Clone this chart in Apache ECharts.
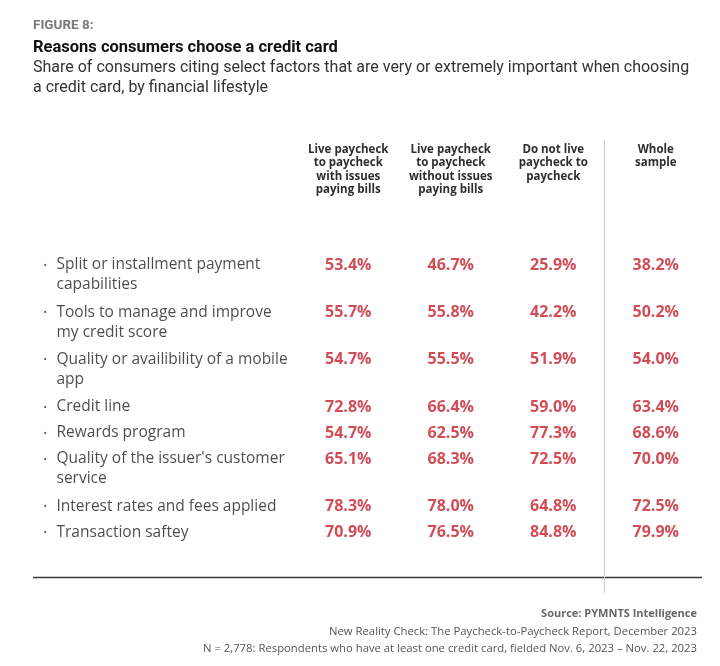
<!DOCTYPE html>
<html><head><meta charset="utf-8">
<script src="https://cdn.jsdelivr.net/npm/echarts@6/dist/echarts.min.js"></script>
<style>html,body{margin:0;padding:0;background:#fff}#c{width:720px;height:666px}</style>
</head><body><div id="c"></div>
<script>
const figureLabel = 'FIGURE 8:';
const titleText = 'Reasons consumers choose a credit card';
const subtitleText = 'Share of consumers citing select factors that are very or extremely important when choosing\na credit card, by financial lifestyle';
const columns = [
  'Live paycheck\nto paycheck\nwith issues\npaying bills',
  'Live paycheck\nto paycheck\nwithout issues\npaying bills',
  'Do not live\npaycheck to\npaycheck',
  'Whole\nsample'
];
const factors = [
  'Split or installment payment\ncapabilities',
  'Tools to manage and improve\nmy credit score',
  'Quality or availibility of a mobile\napp',
  'Credit line',
  'Rewards program',
  "Quality of the issuer's customer\nservice",
  'Interest rates and fees applied',
  'Transaction saftey'
];
const liveWithIssues    = [53.4, 55.7, 54.7, 72.8, 54.7, 65.1, 78.3, 70.9];
const liveWithoutIssues = [46.7, 55.8, 55.5, 66.4, 62.5, 68.3, 78.0, 76.5];
const notLive           = [25.9, 42.2, 51.9, 59.0, 77.3, 72.5, 64.8, 84.8];
const wholeSample       = [38.2, 50.2, 54.0, 63.4, 68.6, 70.0, 72.5, 79.9];
const sourceTitle = 'Source: PYMNTS Intelligence';
const sourceNotes = [
  'New Reality Check: The Paycheck-to-Paycheck Report, December 2023',
  'N = 2,778: Respondents who have at least one credit card, fielded Nov. 6, 2023 \u2013 Nov. 22, 2023'
];

const seriesValues = [liveWithIssues, liveWithoutIssues, notLive, wholeSample];

// row positions derived from the number of lines in each factor label
const EXTRA_LINE = 0.82;
const rowPos = [];
let acc = 0;
factors.forEach(f => { rowPos.push(acc); acc += 1 + EXTRA_LINE * (f.split('\n').length - 1); });
const ruleY = acc + 0.72;
const PX = 26, TOP = 140, H = 453, FIRST = 265;
const yMin = -(FIRST - TOP) / PX, yMax = yMin + H / PX;

const red = '#c61f2d';
const chart = echarts.init(document.getElementById('c'), null, {renderer: 'canvas'});

const yCommon = {type: 'value', inverse: true, min: yMin, max: yMax, show: false};

const footStyle = {fontFamily: 'Open Sans', fontWeight: 'normal', fontSize: 11.3, color: '#555', lineHeight: 14};

const option = {
  animation: false,
  backgroundColor: '#fff',
  title: [
    {text: figureLabel, left: 33, top: 18, padding: 0,
     textStyle: {fontFamily: 'Roboto', fontWeight: 'bold', fontSize: 13.5, color: '#7a7a7a', lineHeight: 15}},
    {text: titleText, left: 33, top: 39, padding: 0,
     textStyle: {fontFamily: 'Roboto', fontWeight: 'bold', fontSize: 16.5, color: '#111', lineHeight: 18}},
    {text: subtitleText, left: 33, top: 58, padding: 0,
     textStyle: {fontFamily: 'Roboto', fontWeight: 'normal', fontSize: 16, color: '#333', lineHeight: 20}},
    {text: sourceTitle, right: 23, top: 607, padding: 0,
     textStyle: {fontFamily: 'Open Sans', fontWeight: 'bold', fontSize: 11, color: '#666', lineHeight: 14}},
    ...sourceNotes.map((s, i) => ({text: s, right: 23, top: 625 + i * 16.5, padding: 0, textStyle: footStyle}))
  ],
  grid: [
    {left: 33, right: 18, top: TOP, height: H},
    {left: 297, right: 13, top: TOP, height: H}
  ],
  xAxis: [
    {type: 'value', gridIndex: 0, min: 0, max: 1, show: false},
    {type: 'category', gridIndex: 1, data: columns, position: 'top',
     axisLine: {show: false}, axisTick: {show: false}, splitLine: {show: false},
     axisLabel: {interval: 0, margin: -3, verticalAlign: 'top', fontFamily: 'Open Sans', fontWeight: 'bold',
                 fontSize: 11.5, lineHeight: 13.4, color: '#2e2e2e'}},
    {type: 'value', gridIndex: 1, min: 0, max: columns.length, show: false}
  ],
  yAxis: [
    Object.assign({gridIndex: 0}, yCommon),
    Object.assign({gridIndex: 1}, yCommon)
  ],
  series: [
    {
      type: 'scatter', name: 'factors', xAxisIndex: 0, yAxisIndex: 0, silent: true,
      symbolSize: 1, itemStyle: {color: 'transparent'},
      data: factors.map((f, i) => [0, rowPos[i], f]),
      label: {
        show: true, position: 'right', distance: 0, offset: [10, -10], verticalAlign: 'top', align: 'left',
        formatter: p => p.value[2].split('\n').map((ln, i) => `{b|${i === 0 ? '\u2022' : ' '}}{t|${ln}}`).join('\n'),
        rich: {
          b: {width: 13, fontSize: 9, color: '#222', lineHeight: 20, fontFamily: 'Open Sans'},
          t: {fontSize: 15.5, color: '#1e1e1e', lineHeight: 20, fontFamily: 'Open Sans'}
        }
      },
      markLine: {silent: true, symbol: 'none', label: {show: false},
                 lineStyle: {color: '#3a3a3a', width: 1.3, type: 'solid'},
                 data: [{yAxis: ruleY}]}
    },
    ...seriesValues.map((vals, c) => ({
      type: 'scatter', name: columns[c], xAxisIndex: 1, yAxisIndex: 1, silent: true,
      symbolSize: 1, itemStyle: {color: 'transparent'},
      data: vals.map((v, i) => [c, rowPos[i], v]),
      label: {show: true, position: 'inside', formatter: p => p.value[2].toFixed(1) + '%',
              color: red, fontFamily: 'Open Sans', fontWeight: 'bold', fontSize: 16}
    })),
    {
      type: 'scatter', name: 'rules', xAxisIndex: 2, yAxisIndex: 1, silent: true, data: [],
      markLine: {silent: true, symbol: 'none', label: {show: false},
                 lineStyle: {color: '#cfcfcf', width: 1, type: 'solid'},
                 data: [{xAxis: columns.length - 1}]}
    }
  ]
};
chart.setOption(option);
</script>
</body></html>
